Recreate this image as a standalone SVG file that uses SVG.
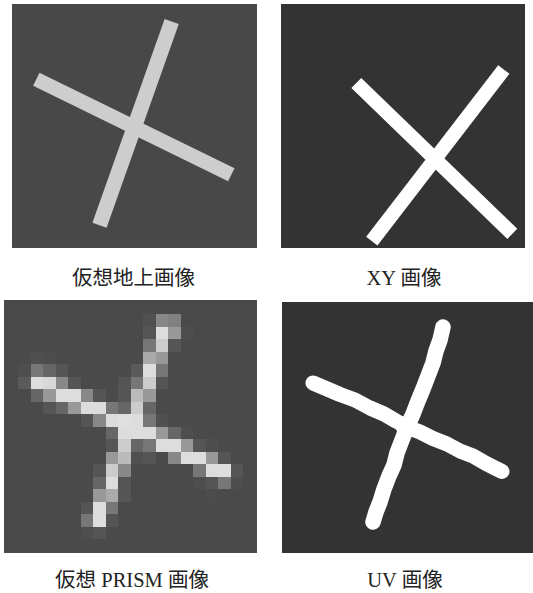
<svg xmlns="http://www.w3.org/2000/svg" width="533" height="593" viewBox="0 0 533 593">
<style>
.cap{font-family:"Liberation Serif","Noto Sans CJK JP",serif;font-size:20.5px;fill:#222;text-anchor:middle}
.bar1{stroke:#cdcdcd;stroke-linecap:butt;fill:none}
.bar2{stroke:#ffffff;stroke-linecap:butt;fill:none}
.uv{stroke:#ffffff;stroke-linecap:round;stroke-linejoin:round;fill:none}
</style>
<rect width="533" height="593" fill="#ffffff"/>
<g id="virtual-ground">
<rect x="12" y="4" width="245" height="244" fill="#484848"/>
<line class="bar1" x1="36.3" y1="79.3" x2="231.3" y2="174.7" stroke-width="14.5"/>
<line class="bar1" x1="171.7" y1="21.5" x2="99.5" y2="225.2" stroke-width="15"/>
<text class="cap" x="133.5" y="285">仮想地上画像</text>
</g>
<g id="xy">
<rect x="281" y="4" width="244" height="244" fill="#333333"/>
<line class="bar2" x1="356.3" y1="83" x2="512.3" y2="233.8" stroke-width="14.2"/>
<line class="bar2" x1="503.8" y1="69.5" x2="371.8" y2="241.2" stroke-width="14.2"/>
<text class="cap" x="404" y="285">XY 画像</text>
</g>
<g id="prism">
<rect x="4" y="300" width="253" height="253" fill="#4a4a4a"/>
<g transform="translate(5.67 301.5) scale(12.5)" shape-rendering="crispEdges">
<rect x="11" y="1" width="1" height="1" fill="#505050"/><rect x="12" y="1" width="1" height="1" fill="#888"/><rect x="13" y="1" width="1" height="1" fill="#808080"/>
<rect x="11" y="2" width="1" height="1" fill="#555"/><rect x="12" y="2" width="1" height="1" fill="#ddd"/><rect x="13" y="2" width="1" height="1" fill="#999"/><rect x="14" y="2" width="1" height="1" fill="#4e4e4e"/>
<rect x="11" y="3" width="1" height="1" fill="#777"/><rect x="12" y="3" width="1" height="1" fill="#ccc"/><rect x="13" y="3" width="1" height="1" fill="#555"/>
<rect x="2" y="4" width="1" height="1" fill="#505050"/><rect x="3" y="4" width="1" height="1" fill="#4d4d4d"/><rect x="11" y="4" width="1" height="1" fill="#aaa"/><rect x="12" y="4" width="1" height="1" fill="#999"/>
<rect x="1" y="5" width="1" height="1" fill="#4e4e4e"/><rect x="2" y="5" width="1" height="1" fill="#777"/><rect x="3" y="5" width="1" height="1" fill="#666"/><rect x="4" y="5" width="1" height="1" fill="#555"/><rect x="10" y="5" width="1" height="1" fill="#5a5a5a"/><rect x="11" y="5" width="1" height="1" fill="#ddd"/><rect x="12" y="5" width="1" height="1" fill="#777"/>
<rect x="1" y="6" width="1" height="1" fill="#5a5a5a"/><rect x="2" y="6" width="1" height="1" fill="#ddd"/><rect x="3" y="6" width="1" height="1" fill="#d8d8d8"/><rect x="4" y="6" width="1" height="1" fill="#888"/><rect x="5" y="6" width="1" height="1" fill="#555"/><rect x="9" y="6" width="1" height="1" fill="#555"/><rect x="10" y="6" width="1" height="1" fill="#777"/><rect x="11" y="6" width="1" height="1" fill="#ccc"/><rect x="12" y="6" width="1" height="1" fill="#555"/>
<rect x="2" y="7" width="1" height="1" fill="#666"/><rect x="3" y="7" width="1" height="1" fill="#999"/><rect x="4" y="7" width="1" height="1" fill="#ddd"/><rect x="5" y="7" width="1" height="1" fill="#ddd"/><rect x="6" y="7" width="1" height="1" fill="#888"/><rect x="7" y="7" width="1" height="1" fill="#555"/><rect x="9" y="7" width="1" height="1" fill="#555"/><rect x="10" y="7" width="1" height="1" fill="#bbb"/><rect x="11" y="7" width="1" height="1" fill="#999"/>
<rect x="3" y="8" width="1" height="1" fill="#555"/><rect x="4" y="8" width="1" height="1" fill="#666"/><rect x="5" y="8" width="1" height="1" fill="#999"/><rect x="6" y="8" width="1" height="1" fill="#ddd"/><rect x="7" y="8" width="1" height="1" fill="#ddd"/><rect x="8" y="8" width="1" height="1" fill="#777"/><rect x="9" y="8" width="1" height="1" fill="#666"/><rect x="10" y="8" width="1" height="1" fill="#ccc"/><rect x="11" y="8" width="1" height="1" fill="#666"/>
<rect x="6" y="9" width="1" height="1" fill="#555"/><rect x="7" y="9" width="1" height="1" fill="#888"/><rect x="8" y="9" width="1" height="1" fill="#ddd"/><rect x="9" y="9" width="1" height="1" fill="#e0e0e0"/><rect x="10" y="9" width="1" height="1" fill="#ddd"/><rect x="11" y="9" width="1" height="1" fill="#777"/><rect x="12" y="9" width="1" height="1" fill="#505050"/>
<rect x="8" y="10" width="1" height="1" fill="#666"/><rect x="9" y="10" width="1" height="1" fill="#ddd"/><rect x="10" y="10" width="1" height="1" fill="#ddd"/><rect x="11" y="10" width="1" height="1" fill="#ddd"/><rect x="12" y="10" width="1" height="1" fill="#999"/><rect x="13" y="10" width="1" height="1" fill="#666"/><rect x="14" y="10" width="1" height="1" fill="#4e4e4e"/>
<rect x="8" y="11" width="1" height="1" fill="#555"/><rect x="9" y="11" width="1" height="1" fill="#ccc"/><rect x="10" y="11" width="1" height="1" fill="#666"/><rect x="11" y="11" width="1" height="1" fill="#777"/><rect x="12" y="11" width="1" height="1" fill="#ddd"/><rect x="13" y="11" width="1" height="1" fill="#ddd"/><rect x="14" y="11" width="1" height="1" fill="#999"/><rect x="15" y="11" width="1" height="1" fill="#555"/><rect x="16" y="11" width="1" height="1" fill="#4e4e4e"/>
<rect x="8" y="12" width="1" height="1" fill="#999"/><rect x="9" y="12" width="1" height="1" fill="#bbb"/><rect x="10" y="12" width="1" height="1" fill="#505050"/><rect x="11" y="12" width="1" height="1" fill="#555"/><rect x="13" y="12" width="1" height="1" fill="#888"/><rect x="14" y="12" width="1" height="1" fill="#ddd"/><rect x="15" y="12" width="1" height="1" fill="#ddd"/><rect x="16" y="12" width="1" height="1" fill="#999"/><rect x="17" y="12" width="1" height="1" fill="#555"/>
<rect x="7" y="13" width="1" height="1" fill="#555"/><rect x="8" y="13" width="1" height="1" fill="#ccc"/><rect x="9" y="13" width="1" height="1" fill="#888"/><rect x="15" y="13" width="1" height="1" fill="#777"/><rect x="16" y="13" width="1" height="1" fill="#ddd"/><rect x="17" y="13" width="1" height="1" fill="#ddd"/><rect x="18" y="13" width="1" height="1" fill="#555"/>
<rect x="7" y="14" width="1" height="1" fill="#666"/><rect x="8" y="14" width="1" height="1" fill="#ddd"/><rect x="9" y="14" width="1" height="1" fill="#555"/><rect x="15" y="14" width="1" height="1" fill="#4e4e4e"/><rect x="16" y="14" width="1" height="1" fill="#555"/><rect x="17" y="14" width="1" height="1" fill="#777"/><rect x="18" y="14" width="1" height="1" fill="#4e4e4e"/>
<rect x="7" y="15" width="1" height="1" fill="#999"/><rect x="8" y="15" width="1" height="1" fill="#aaa"/><rect x="9" y="15" width="1" height="1" fill="#555"/><rect x="16" y="15" width="1" height="1" fill="#4c4c4c"/>
<rect x="6" y="16" width="1" height="1" fill="#555"/><rect x="7" y="16" width="1" height="1" fill="#ddd"/><rect x="8" y="16" width="1" height="1" fill="#777"/>
<rect x="6" y="17" width="1" height="1" fill="#777"/><rect x="7" y="17" width="1" height="1" fill="#ddd"/><rect x="8" y="17" width="1" height="1" fill="#555"/>
<rect x="6" y="18" width="1" height="1" fill="#4e4e4e"/><rect x="7" y="18" width="1" height="1" fill="#555"/>
</g>
<text class="cap" x="132" y="587">仮想 PRISM 画像</text>
</g>
<g id="uv">
<rect x="282" y="302" width="251" height="251" fill="#333333"/>
<polyline class="uv" stroke-width="15" points="313,383 326,388.5 340,394.5 355,400 370,408 384,414 396,421 407,427 420,432 433,438.5 447,444 460,451 473,456 487,464 502,471.5"/>
<polyline class="uv" stroke-width="15.5" points="443,327 440,340 436,351 433,363 428,376 423,389 418,401 413,414 407,427 402,440 397,453 394,465 389,476 384,489 380,502 376,512 373,522"/>
<circle cx="407" cy="427" r="11" fill="#ffffff"/>
<text class="cap" x="405" y="587">UV 画像</text>
</g>
</svg>
